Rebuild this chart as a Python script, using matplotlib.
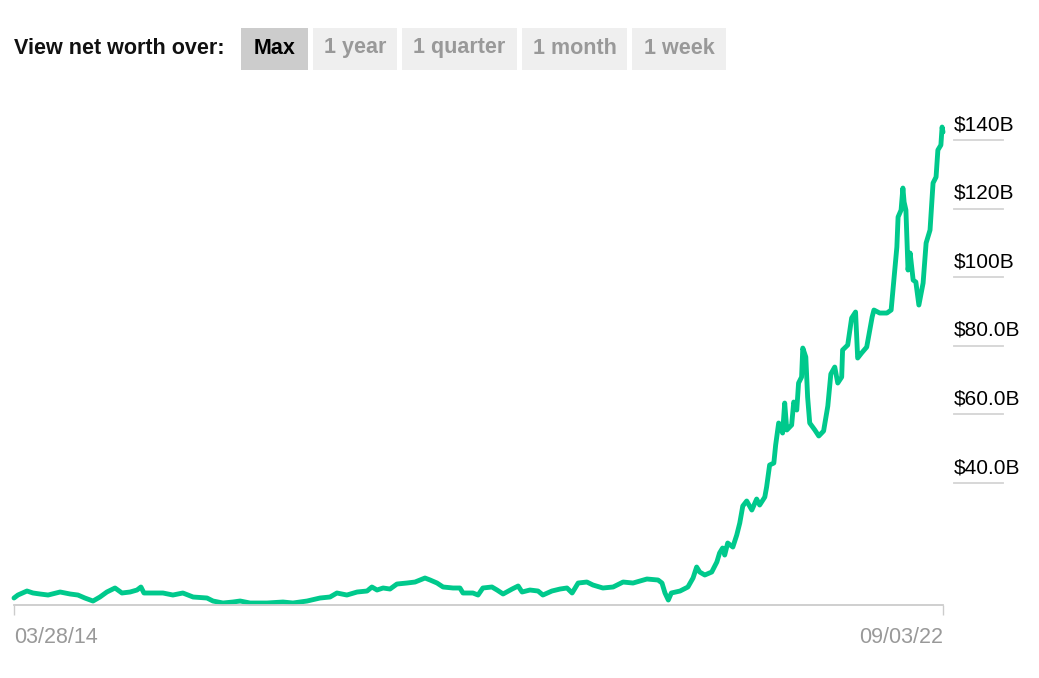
import matplotlib
matplotlib.use("Agg")
import matplotlib.pyplot as plt
import matplotlib.dates as mdates
import matplotlib.transforms as mtransforms
from matplotlib.patches import Rectangle
import pandas as pd

# ---- data (net worth in billions of USD) ----
dates = [
    "2014-03-28", "2014-04-10", "2014-05-10", "2014-05-30", "2014-06-22",
    "2014-07-19", "2014-08-28", "2014-09-30", "2014-10-26", "2014-11-18",
    "2014-12-15", "2015-01-07", "2015-01-30", "2015-02-26", "2015-03-21",
    "2015-04-17", "2015-05-10", "2015-05-23", "2015-06-02", "2015-07-02",
    "2015-08-04", "2015-09-06", "2015-10-09", "2015-11-12", "2015-12-28",
    "2016-01-17", "2016-02-19", "2016-03-23", "2016-04-16", "2016-05-19",
    "2016-07-14", "2016-09-05", "2016-10-08", "2016-11-24", "2017-01-06",
    "2017-02-08", "2017-03-03", "2017-04-05", "2017-05-09", "2017-06-11",
    "2017-06-27", "2017-07-14", "2017-08-03", "2017-08-26", "2017-09-18",
    "2017-10-21", "2017-11-17", "2017-12-20", "2018-01-06", "2018-01-29",
    "2018-02-18", "2018-03-23", "2018-04-15", "2018-04-25", "2018-05-28",
    "2018-06-14", "2018-06-30", "2018-07-30", "2018-08-16", "2018-09-05",
    "2018-10-05", "2018-10-25", "2018-11-07", "2018-12-03", "2018-12-30",
    "2019-01-15", "2019-02-14", "2019-03-13", "2019-04-05", "2019-04-22",
    "2019-05-12", "2019-06-10", "2019-06-30", "2019-08-02", "2019-09-05",
    "2019-10-08", "2019-11-10", "2019-12-26", "2020-02-01", "2020-02-14",
    "2020-02-24", "2020-03-06", "2020-03-16", "2020-04-14", "2020-05-10",
    "2020-05-27", "2020-06-08", "2020-06-18", "2020-07-05", "2020-07-28",
    "2020-08-14", "2020-08-23", "2020-09-02", "2020-09-09", "2020-09-19",
    "2020-10-06", "2020-10-19", "2020-10-29", "2020-11-08", "2020-11-21",
    "2020-12-08", "2020-12-24", "2021-01-03", "2021-01-20", "2021-01-26",
    "2021-02-05", "2021-02-19", "2021-02-25", "2021-03-07", "2021-03-20",
    "2021-03-27", "2021-04-03", "2021-04-19", "2021-04-26", "2021-05-06",
    "2021-05-12", "2021-05-22", "2021-05-26", "2021-06-05", "2021-06-11",
    "2021-06-18", "2021-07-05", "2021-07-18", "2021-08-03", "2021-08-17",
    "2021-08-27", "2021-09-09", "2021-09-19", "2021-10-02", "2021-10-05",
    "2021-10-22", "2021-11-04", "2021-11-17", "2021-11-24", "2021-12-07",
    "2021-12-24", "2022-01-11", "2022-01-17", "2022-02-05", "2022-03-01",
    "2022-03-15", "2022-03-21", "2022-04-03", "2022-04-07", "2022-04-17",
    "2022-04-23", "2022-04-27", "2022-05-03", "2022-05-10", "2022-05-17",
    "2022-05-27", "2022-06-05", "2022-06-15", "2022-06-29", "2022-07-09",
    "2022-07-22", "2022-08-01", "2022-08-11", "2022-08-17", "2022-08-27",
    "2022-08-31", "2022-09-03",
]
worth = [
    6.46, 7.33, 8.50, 7.92, 7.63,
    7.33, 8.21, 7.63, 7.33, 6.46,
    5.58, 6.75, 8.21, 9.38, 7.92,
    8.21, 8.79, 9.67, 7.92, 7.92,
    7.92, 7.33, 7.92, 6.75, 6.46,
    5.58, 5.00, 5.29, 5.58, 5.00,
    5.00, 5.29, 5.00, 5.58, 6.46,
    6.75, 7.92, 7.33, 8.21, 8.50,
    9.67, 8.79, 9.38, 9.08, 10.54,
    10.83, 11.12, 12.29, 11.71, 10.83,
    9.67, 9.38, 9.38, 7.92, 7.92,
    7.33, 9.38, 9.67, 8.79, 7.63,
    9.08, 9.96, 8.21, 8.79, 8.50,
    7.33, 8.50, 9.08, 9.38, 7.92,
    10.83, 11.12, 10.25, 9.38, 9.67,
    11.12, 10.83, 12.00, 11.71, 10.83,
    7.92, 5.87, 7.92, 8.50, 9.67,
    12.29, 15.50, 14.04, 13.17, 14.04,
    16.96, 19.58, 21.04, 18.99, 22.50,
    21.33, 24.83, 28.33, 33.29, 34.75,
    32.12, 35.33, 33.58, 35.91, 38.83,
    45.25, 45.83, 51.08, 57.50, 54.58,
    63.33, 55.46, 56.92, 63.62, 61.29,
    69.16, 70.91, 79.37, 76.74, 65.08,
    57.50, 55.46, 53.71, 55.17, 62.46,
    71.79, 73.83, 69.16, 70.91, 78.79,
    80.25, 88.12, 89.87, 76.45, 77.91,
    79.66, 88.42, 90.46, 89.58, 89.58,
    90.46, 96.29, 108.83, 117.58, 119.62,
    126.04, 121.95, 119.62, 102.12, 107.08,
    99.20, 98.62, 91.91, 98.33, 110.00,
    113.79, 127.50, 129.25, 137.12, 138.58,
    143.83, 142.37,
]
ytick_values = [40, 60, 80, 100, 120, 140]
ytick_labels = ["$40.0B", "$60.0B", "$80.0B", "$100B", "$120B", "$140B"]
buttons = ["Max", "1 year", "1 quarter", "1 month", "1 week"]

GREEN = "#00c98c"
FONT = "Liberation Sans"

plt.rcParams["font.family"] = [FONT, "DejaVu Sans"]

x = pd.to_datetime(dates)

W, H = 1039, 678
fig = plt.figure(figsize=(W / 100, H / 100), dpi=100)
ax = fig.add_axes([14 / W, 1 - 605 / H, (943 - 14) / W, (605 - 110) / H])

ax.plot(x, worth, color=GREEN, lw=3.5, solid_joinstyle="round",
        solid_capstyle="round", clip_on=False)

ax.set_xlim(x[0], x[-1])
ax.set_ylim(4.42, 148.8)

for side in ["top", "left", "right"]:
    ax.spines[side].set_visible(False)
ax.spines["bottom"].set_color("#cccccc")
ax.spines["bottom"].set_linewidth(1.3)

# x ticks only at the ends
ax.set_xticks([x[0], x[-1]])
ax.xaxis.set_major_formatter(mdates.DateFormatter("%m/%d/%y"))
ax.tick_params(axis="x", direction="out", length=7, width=1.0,
               color="#cccccc", labelcolor="#999999", labelsize=15.5, pad=9)
lbls = ax.get_xticklabels()
lbls[0].set_horizontalalignment("left")
lbls[-1].set_horizontalalignment("right")

# y labels on the right, sitting above a short underline
ax.set_yticks([])
trans = mtransforms.blended_transform_factory(fig.transFigure, ax.transData)
text_trans = mtransforms.offset_copy(trans, fig=fig, y=10, units="dots")
for v, lab in zip(ytick_values, ytick_labels):
    ax.plot([954 / W, 1003 / W], [v, v], transform=trans, color="#d4d4d4",
            lw=1.3, clip_on=False)
    ax.text(954 / W, v, lab, transform=text_trans, ha="left",
            va="baseline", fontsize=15, color="#000000")

# header with range buttons
fig.text(14 / W, 1 - 48 / H, "View net worth over:", fontsize=15.5,
         fontweight="bold", color="#111111", ha="left", va="center")
box_edges = [(241, 308), (313, 397), (402, 517), (522, 627), (632, 726)]
for i, (name, (x0, x1)) in enumerate(zip(buttons, box_edges)):
    active = i == 0
    fig.patches.append(Rectangle((x0 / W, 1 - 70 / H), (x1 - x0) / W,
                                 42 / H, transform=fig.transFigure,
                                 facecolor="#cccccc" if active else "#efefef",
                                 edgecolor="none"))
    fig.text((x0 + x1) / 2 / W, 1 - 48 / H, name, fontsize=15.5,
             fontweight="bold", ha="center", va="center",
             color="#000000" if active else "#999999")

fig.savefig("out.png", dpi=100)
